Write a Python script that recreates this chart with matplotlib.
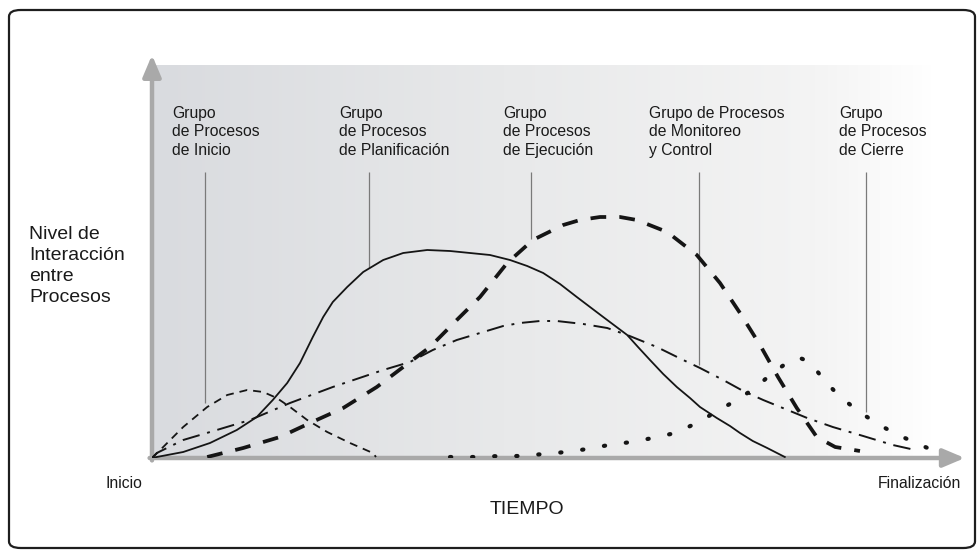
import matplotlib
matplotlib.use("Agg")
import matplotlib.pyplot as plt
import numpy as np
from matplotlib.patches import FancyBboxPatch
from matplotlib.colors import LinearSegmentedColormap

plt.rcParams['font.family'] = ['Liberation Sans', 'DejaVu Sans']

# time runs 0..100 (Inicio -> Finalización), level runs 0..100
inicio_t = [0, 1.4, 3.9, 6.9, 9.4, 11.9, 13.9, 15.6, 17.25, 19.4, 21.9, 24.75, 27.6, 28]
inicio_lvl = [0, 2.75, 7.75, 12.75, 15.75, 17, 16.5, 15, 12.75, 9.5, 6.5, 3.75, 1.25, 0.25]

planif_t = [0, 0.6, 3.9, 7.25, 10.6, 13.1, 15.1, 16.9, 18.5, 20.1, 21.4, 22.6, 24.4,
            26.4, 28.9, 31.4, 34.4, 37.25, 39.75, 42.25, 44.75, 46.9, 48.9, 51,
            53.1, 54.75, 56.4, 57.9, 59.4, 60.75, 62.25, 63.9, 65.6, 67.25, 68.5,
            70.6, 72.25, 73.5, 75.1, 76.9, 79.1]
planif_lvl = [0, 0.25, 1.5, 3.75, 7, 10.25, 14.5, 18.75, 23.75, 30.25, 35.25, 39,
              42.75, 46.5, 49.5, 51.25, 52, 51.75, 51.25, 50.75, 49.5, 48, 46.25,
              43.5, 40.25, 37.75, 35.25, 33, 30.75, 27.75, 24.5, 21, 17.75, 15,
              12.75, 10, 8, 6.25, 4.25, 2.5, 0.25]

ejec_t = [6.9, 11.4, 16, 19.75, 23.9, 28.1, 31.4, 34.75, 38.1, 41, 44.4, 47.6, 51.4,
          53.5, 56, 58.5, 60.6, 64.4, 68.1, 71, 73.5, 76, 78.25, 80.6, 83.1, 85.4, 88.5]
ejec_lvl = [0.25, 2.5, 5.25, 8.75, 12.5, 17.75, 22.75, 27.75, 34.5, 40.25, 48.75,
            54.5, 58.25, 59.5, 60.25, 60.25, 59.5, 56.5, 50.75, 43.75, 36.25, 28.25,
            20.25, 12.5, 5.25, 2.75, 1.75]

monit_t = [0, 0.6, 3.9, 8.1, 12.25, 17.25, 22.6, 28.9, 32.25, 35.1, 38.1, 41, 43.9,
           46, 48.5, 50.6, 53.9, 56.9, 59.4, 63.1, 66.4, 68.5, 71.4, 73.9, 76.4,
           81.9, 85.1, 88.9, 92.6, 95.4]
monit_lvl = [0, 1.25, 4.5, 7, 9.5, 13.75, 17.75, 22, 24, 27, 29.5, 31.25, 33,
             33.75, 34.25, 34.25, 33.5, 32.5, 30.75, 27.75, 24.5, 22.5, 19.5, 16.75,
             14.5, 10, 7.75, 5.5, 3.25, 2]

cierre_t = [37.25, 40.4, 43.5, 46, 49, 51.75, 54.4, 57.1, 59.9, 62.6, 65.4, 68.1,
            70.9, 73.1, 75.4, 77.25, 79.5, 81, 82.25, 84, 85.9, 88.1, 90.5, 93,
            95.5, 98.1]
cierre_lvl = [0.25, 0.25, 0.5, 0.5, 1, 1.5, 2.25, 3.25, 4, 5, 6.25, 8.75, 12, 14.5,
              17.5, 20.75, 24, 25, 24, 19.5, 15.5, 12, 8.75, 6, 3.75, 1.5]

group_labels = ["Grupo\nde Procesos\nde Inicio",
                "Grupo\nde Procesos\nde Planificación",
                "Grupo\nde Procesos\nde Ejecución",
                "Grupo de Procesos\nde Monitoreo\ny Control",
                "Grupo\nde Procesos\nde Cierre"]
label_t = [2.5, 23.4, 43.9, 62.1, 85.9]
leader_t = [6.6, 27.1, 47.4, 68.4, 89.2]
leader_bottom = [13.75, 47.5, 54.75, 23.25, 11.5]
leader_top = 71.5

W, H = 979, 552
fig = plt.figure(figsize=(W / 100, H / 100), dpi=100)

# rounded frame
frame = FancyBboxPatch((9 / W, 1 - 548 / H), 966 / W, 538 / H,
                       boxstyle="round,pad=0,rounding_size=0.012",
                       transform=fig.transFigure, fill=False,
                       edgecolor='#1e1e1e', lw=1.6)
fig.patches.append(frame)

ax = fig.add_axes([152 / W, (H - 458) / H, 800 / W, 400 / H])

# grey gradient background
cmap = LinearSegmentedColormap.from_list(
    "bg", [(0, '#d9dbdf'), (0.45, '#e8e9ea'), (0.85, '#f4f4f4'), (1.0, '#ffffff')])
grad = np.linspace(0, 1, 256).reshape(1, -1)
ax.imshow(grad, extent=(0, 98, 0, 98.25), aspect='auto', cmap=cmap,
          origin='lower', zorder=0, interpolation='bicubic')
ax.set_xlim(0, 100)
ax.set_ylim(0, 100)
ax.axis('off')

# axes arrows
arrow_kw = dict(arrowstyle='-|>,head_length=1.3,head_width=0.55',
                color='#a9a9a9', lw=3.2, shrinkA=0, shrinkB=0)
ax.annotate('', xy=(101.6, 0), xytext=(-0.3, 0), arrowprops=arrow_kw,
            annotation_clip=False, zorder=1)
ax.annotate('', xy=(0, 100.75), xytext=(0, -0.6), arrowprops=arrow_kw,
            annotation_clip=False, zorder=1)

# leader lines
ax.vlines(leader_t, leader_bottom, leader_top, color='#7a7a7a', lw=0.9, zorder=2)

ink = '#151515'
ax.plot(inicio_t, inicio_lvl, color=ink, lw=1.3, dashes=(4.4, 3.3), zorder=3)
ax.plot(planif_t, planif_lvl, color=ink, lw=1.3, zorder=3)
ax.plot(ejec_t, ejec_lvl, color=ink, lw=2.7, dashes=(4.2, 3.5), zorder=3)
ax.plot(monit_t, monit_lvl, color=ink, lw=1.4, dashes=(9.0, 4.0, 1.5, 4.0), zorder=3)
ax.plot(cierre_t, cierre_lvl, color=ink, lw=3.0, dashes=(0.3, 5.0),
        dash_capstyle='round', zorder=3)

for t, s in zip(label_t, group_labels):
    ax.text(t, 81.5, s, ha='left', va='center', fontsize=11.3, color='#1a1a1a',
            linespacing=1.27, zorder=4)

fig.text(29 / W, 1 - 266 / H, "Nivel de\nInteracción\nentre\nProcesos",
         ha='left', va='center', fontsize=14, color='#1a1a1a', linespacing=1.3)
fig.text(124 / W, 1 - 483 / H, "Inicio", ha='center', va='center',
         fontsize=11.3, color='#1a1a1a')
fig.text(961 / W, 1 - 483 / H, "Finalización", ha='right', va='center',
         fontsize=11.3, color='#1a1a1a')
fig.text(527 / W, 1 - 510 / H, "TIEMPO", ha='center', va='center',
         fontsize=14, color='#1a1a1a')

fig.savefig("out.png", dpi=100)
